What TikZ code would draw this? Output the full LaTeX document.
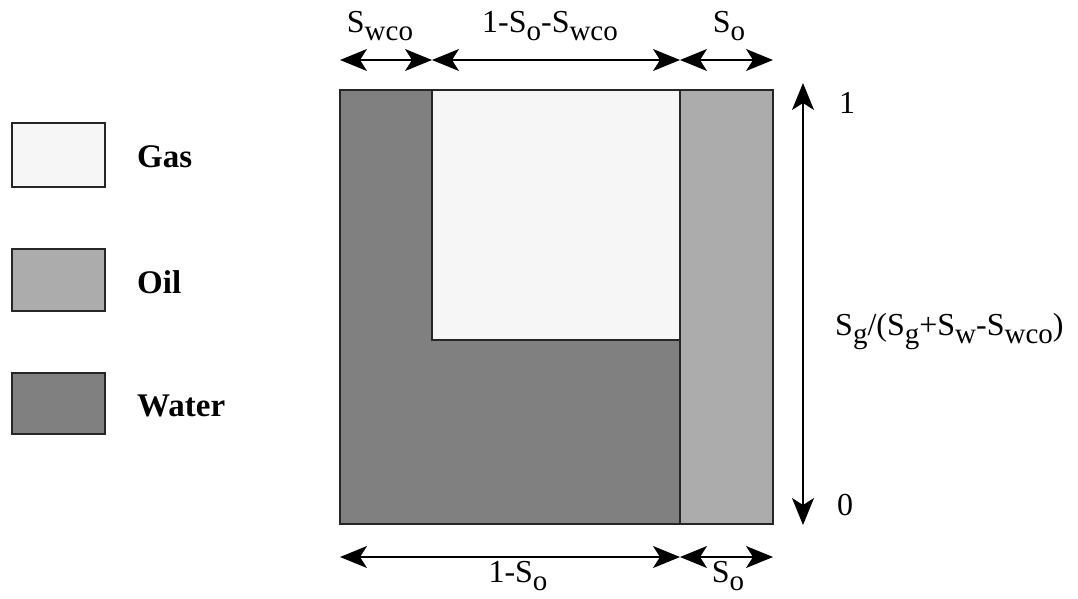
\documentclass[tikz,border=0pt]{standalone}
\usepackage{fontspec}
\setmainfont{Liberation Serif}
\usetikzlibrary{arrows.meta}
\newcommand{\mysub}[1]{\raisebox{-0.26em}{\fontsize{29}{29}\selectfont #1}}
\begin{document}
\begin{tikzpicture}[x=1pt,y=-1pt,
  lbl/.style={inner sep=0pt,font=\fontsize{32}{32}\selectfont},
  leg/.style={inner sep=0pt,anchor=base west,font=\fontsize{33}{33}\selectfont\bfseries},
  legbox/.style={draw=black!85,line width=1.6pt},
  dim/.style={line width=1.5pt,{Stealth[length=27pt,width=22pt,inset=7pt]}-{Stealth[length=27pt,width=22pt,inset=7pt]}},
  gasfill/.style={fill=gray!7},
  oilfill/.style={fill=gray!65},
  waterfill/.style={fill=black!50}]
\useasboundingbox (0,0) rectangle (1078,598);
% legend
\draw[legbox,gasfill] (12,123) rectangle (105,187);
\draw[legbox,oilfill] (12,249) rectangle (105,311);
\draw[legbox,waterfill] (12,373) rectangle (105,434);
\node[leg] (lgas) at (137,167) {Gas};
\node[leg] (loil) at (137,293) {Oil};
\node[leg] (lwater) at (137,416) {Water};
% main diagram
\draw[legbox,waterfill] (340,90) rectangle (680,524);
\draw[legbox,gasfill] (432,90) rectangle (680,340);
\draw[legbox,oilfill] (680,90) rectangle (773,524);
% top dimension arrows
\coordinate (t0) at (340,60);
\coordinate (t1) at (432,60);
\coordinate (t2) at (680,60);
\coordinate (t3) at (773,60);
\draw[dim] (t0) -- (t1);
\draw[dim] (t1) -- (t2);
\draw[dim] (t2) -- (t3);
\node[lbl,anchor=base] (swco) at (380,32) {S\mysub{wco}};
\node[lbl,anchor=base] (mid) at (550,32) {1-S\mysub{o}-S\mysub{wco}};
\node[lbl,anchor=base] (sotop) at (729,32) {S\mysub{o}};
% bottom dimension arrows
\coordinate (b0) at (340,557);
\coordinate (b1) at (680,557);
\coordinate (b2) at (773,557);
\draw[dim] (b0) -- (b1);
\draw[dim] (b1) -- (b2);
\node[lbl,anchor=base] (oneso) at (518,582) {1-S\mysub{o}};
\node[lbl,anchor=base] (sobot) at (728,582) {S\mysub{o}};
% vertical arrow
\coordinate (vtop) at (803,83);
\coordinate (vbot) at (803,525);
\draw[dim] (vbot) -- (vtop);
\node[lbl,anchor=base west] (one) at (839,113) {1};
\node[lbl,anchor=base west] (zero) at (837,515) {0};
\node[lbl,anchor=base west] (ratio) at (835,335) {S\mysub{g}/(S\mysub{g}+S\mysub{w}-S\mysub{wco})};
\end{tikzpicture}
\end{document}
